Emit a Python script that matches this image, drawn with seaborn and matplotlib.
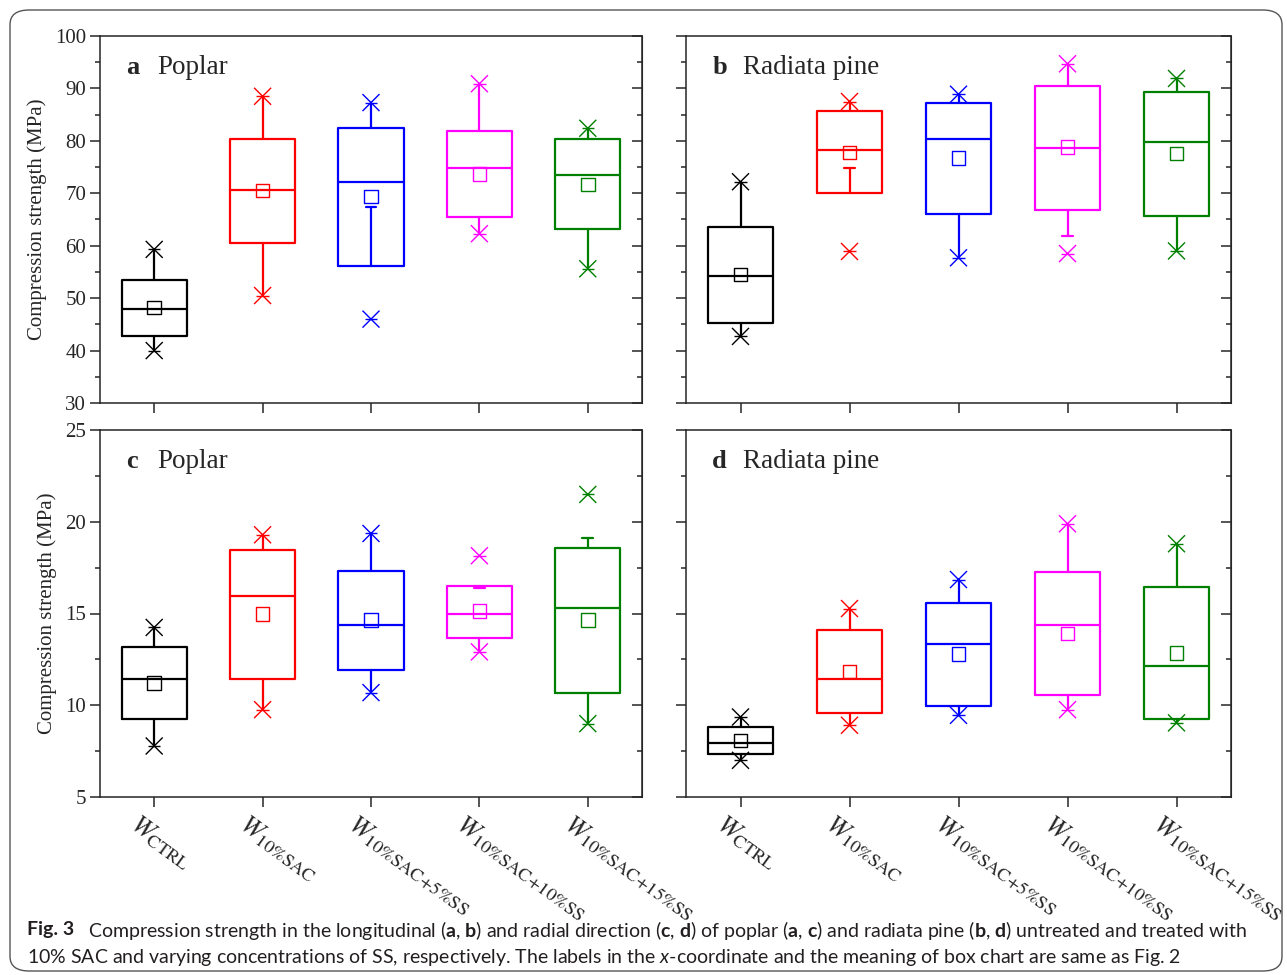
import numpy as np
import pandas as pd
import matplotlib
matplotlib.use("Agg")
import matplotlib.pyplot as plt
from matplotlib.patches import FancyBboxPatch
from matplotlib.ticker import MultipleLocator
import matplotlib.transforms as mtransforms
import seaborn as sns

sns.set_style("ticks")
plt.rcParams['font.family'] = ['Liberation Serif', 'DejaVu Serif']
plt.rcParams['mathtext.fontset'] = 'custom'
plt.rcParams['mathtext.rm'] = 'Lato'
plt.rcParams['mathtext.bf'] = 'Lato:bold'
plt.rcParams['mathtext.it'] = 'Lato:italic'

groups = ['CTRL', '10%SAC', '10%SAC+5%SS', '10%SAC+10%SS', '10%SAC+15%SS']
tick_labels = [r'$W_{\mathrm{CTRL}}$', r'$W_{\mathrm{10\%SAC}}$',
               r'$W_{\mathrm{10\%SAC{+}5\%SS}}$', r'$W_{\mathrm{10\%SAC{+}10\%SS}}$',
               r'$W_{\mathrm{10\%SAC{+}15\%SS}}$']
colors = ['#000000', '#ff0000', '#0000ff', '#ff00ff', '#008000']

# a - poplar, longitudinal
a_q1 = [42.8, 60.5, 56.1, 65.5, 63.1]
a_med = [48.0, 70.7, 72.1, 74.9, 73.5]
a_q3 = [53.5, 80.4, 82.5, 81.9, 80.3]
a_mean = [48.2, 70.5, 69.4, 73.7, 71.7]
a_wlo = [40.0, 50.5, 67.4, 62.3, 55.6]
a_whi = [59.3, 88.5, 87.3, 90.9, 82.4]
a_min = [40.0, 50.5, 46.0, 62.3, 55.6]
a_max = [59.3, 88.5, 87.3, 90.9, 82.4]

# b - radiata pine, longitudinal
b_q1 = [45.3, 70.0, 66.0, 66.9, 65.6]
b_med = [54.2, 78.3, 80.3, 78.6, 79.8]
b_q3 = [63.5, 85.6, 87.3, 90.5, 89.3]
b_mean = [54.5, 77.8, 76.7, 78.8, 77.6]
b_wlo = [42.7, 74.8, 57.7, 61.9, 59.0]
b_whi = [72.2, 87.5, 88.9, 94.7, 91.9]
b_min = [42.7, 58.9, 57.7, 58.5, 59.0]
b_max = [72.2, 87.5, 88.9, 94.7, 91.9]

# c - poplar, radial
c_q1 = [9.25, 11.42, 11.93, 13.69, 10.69]
c_med = [11.44, 15.98, 14.38, 14.96, 15.29]
c_q3 = [13.18, 18.47, 17.29, 16.51, 18.58]
c_mean = [11.22, 14.96, 14.64, 15.13, 14.64]
c_wlo = [7.78, 9.76, 10.69, 12.91, 9.0]
c_whi = [14.24, 19.29, 19.36, 16.38, 19.09]
c_min = [7.78, 9.76, 10.69, 12.91, 9.0]
c_max = [14.24, 19.29, 19.36, 18.15, 21.49]

# d - radiata pine, radial
d_q1 = [7.33, 9.6, 9.96, 10.55, 9.24]
d_med = [7.95, 11.42, 13.35, 14.36, 12.16]
d_q3 = [8.8, 14.09, 15.56, 17.27, 16.44]
d_mean = [8.09, 11.85, 12.78, 13.91, 12.85]
d_wlo = [7.0, 8.91, 9.45, 9.76, 9.04]
d_whi = [9.36, 15.27, 16.85, 19.89, 18.8]
d_min = [7.0, 8.91, 9.45, 9.76, 9.04]
d_max = [9.36, 15.27, 16.85, 19.89, 18.8]

panels = [
    ('a', 'Poplar', a_q1, a_med, a_q3, a_mean, a_wlo, a_whi, a_min, a_max),
    ('b', 'Radiata pine', b_q1, b_med, b_q3, b_mean, b_wlo, b_whi, b_min, b_max),
    ('c', 'Poplar', c_q1, c_med, c_q3, c_mean, c_wlo, c_whi, c_min, c_max),
    ('d', 'Radiata pine', d_q1, d_med, d_q3, d_mean, d_wlo, d_whi, d_min, d_max),
]

W, H = 1287, 975
fig = plt.figure(figsize=(W / 100, H / 100), dpi=100)

# outer rounded frame
frame = FancyBboxPatch((10 / W, 4 / H), 1272 / W, 961 / H, transform=fig.transFigure,
                       boxstyle="round,pad=0,rounding_size=0.015", fc='none',
                       ec='#555555', lw=1.0)
fig.patches.append(frame)

boxes_px = [(100, 36, 542, 367), (686, 36, 545, 367), (100, 430, 542, 367), (686, 430, 545, 367)]
pos = np.arange(len(groups))

for k, (letter, wood, q1, med, q3, mean, wlo, whi, mn, mx) in enumerate(panels):
    x0, y0, w, h = boxes_px[k]
    ax = fig.add_axes([x0 / W, 1 - (y0 + h) / H, w / W, h / H])

    stats = []
    for i in range(len(groups)):
        stats.append(dict(q1=q1[i], med=med[i], q3=q3[i], whislo=wlo[i], whishi=whi[i],
                          fliers=[], label=groups[i]))
    art = ax.bxp(stats, positions=pos, widths=0.6, showfliers=False, capwidths=0.1,
                 manage_ticks=False,
                 boxprops=dict(lw=1.6), medianprops=dict(lw=1.6),
                 whiskerprops=dict(lw=1.6), capprops=dict(lw=1.6))
    for i, c in enumerate(colors):
        art['boxes'][i].set_color(c)
        art['medians'][i].set_color(c)
        for j in (2 * i, 2 * i + 1):
            art['whiskers'][j].set_color(c)
            art['caps'][j].set_color(c)
        # cap only shown where the whisker stops short of the extreme point
        art['caps'][2 * i].set_visible(wlo[i] != mn[i])
        art['caps'][2 * i + 1].set_visible(whi[i] != mx[i])

    df_mean = pd.DataFrame({'pos': pos, 'value': mean, 'group': groups})
    df_ext = pd.DataFrame({'pos': np.concatenate([pos, pos]),
                           'value': mn + mx, 'group': groups + groups})
    pal = dict(zip(groups, colors))

    sns.scatterplot(data=df_mean, x='pos', y='value', hue='group', palette=pal,
                    marker='s', s=95, linewidth=1.0, legend=False, ax=ax, zorder=4)
    pts = ax.collections[-1]
    fc = pts.get_facecolors()
    pts.set_edgecolors(fc)
    pts.set_facecolors('none')

    for mk, size in (('x', 150), ('_', 80)):
        sns.scatterplot(data=df_ext, x='pos', y='value', hue='group', palette=pal,
                        marker=mk, s=size, linewidth=1.0, legend=False, ax=ax, zorder=5)
        pts = ax.collections[-1]
        pts.set_edgecolors(pts.get_facecolors())

    ax.set_xlim(-0.5, 4.5)
    if k < 2:
        ax.set_ylim(30, 100)
        ax.yaxis.set_major_locator(MultipleLocator(10))
        ax.yaxis.set_minor_locator(MultipleLocator(5))
    else:
        ax.set_ylim(5, 25)
        ax.yaxis.set_major_locator(MultipleLocator(5))
        ax.yaxis.set_minor_locator(MultipleLocator(2.5))

    ax.set_xticks(pos)
    ax.tick_params(axis='y', which='major', direction='out', length=7, width=1.1,
                   labelsize=15, pad=3)
    ax.tick_params(axis='y', which='minor', direction='out', length=3.5, width=1.1)
    ax.tick_params(axis='x', which='major', direction='out', length=7, width=1.1)
    for sp in ax.spines.values():
        sp.set_visible(True)
        sp.set_linewidth(1.1)

    sec = ax.secondary_yaxis('right')
    sec.yaxis.set_major_locator(ax.yaxis.get_major_locator())
    sec.yaxis.set_minor_locator(ax.yaxis.get_minor_locator())
    sec.tick_params(axis='y', which='major', direction='in', length=7, width=1.1, labelright=False)
    sec.tick_params(axis='y', which='minor', direction='in', length=3.5, width=1.1)

    if k % 2 == 0:
        ax.set_ylabel('Compression strength (MPa)', fontsize=15, labelpad=6)
    else:
        ax.tick_params(axis='y', labelleft=False)
        ax.set_ylabel('')
    ax.set_xlabel('')

    if k >= 2:
        offset = mtransforms.ScaledTranslation(-14 / 100, 0, fig.dpi_scale_trans)
        ax.set_xticklabels(tick_labels, rotation=-36, ha='left', va='top',
                           rotation_mode='anchor', fontsize=19, math_fontfamily='stix')
        for lab in ax.get_xticklabels():
            lab.set_transform(lab.get_transform() + offset)
    else:
        ax.set_xticklabels([])

    ax.text(0.048, 0.915, letter, transform=ax.transAxes, fontsize=19,
            fontweight='bold', va='center', ha='left')
    ax.text(0.105, 0.915, wood, transform=ax.transAxes, fontsize=19.5,
            va='center', ha='left')

cap_color = '#231f20'
fig.text(27 / W, 1 - 930 / H, 'Fig. 3', fontsize=14, fontweight='bold',
         family='Lato', color=cap_color, va='center')
fig.text(88 / W, 1 - 930 / H,
         r'Compression strength in the longitudinal ($\mathbf{a}$, $\mathbf{b}$) and radial direction '
         r'($\mathbf{c}$, $\mathbf{d}$) of poplar ($\mathbf{a}$, $\mathbf{c}$) and radiata pine '
         r'($\mathbf{b}$, $\mathbf{d}$) untreated and treated with',
         fontsize=14, family='Lato', color=cap_color, va='center')
fig.text(27 / W, 1 - 957 / H,
         r'10% SAC and varying concentrations of SS, respectively. The labels in the $\mathit{x}$-coordinate '
         r'and the meaning of box chart are same as Fig. 2',
         fontsize=14, family='Lato', color=cap_color, va='center')

fig.savefig('out.png', dpi=100)
